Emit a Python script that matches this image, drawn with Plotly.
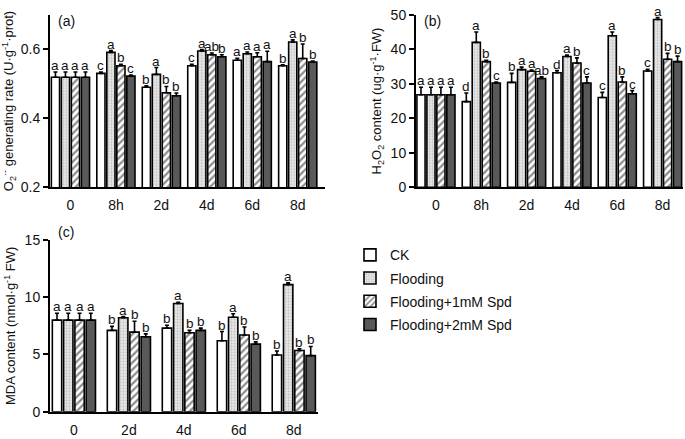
import plotly.graph_objects as go

# ---------------- data ----------------
treatments = ["CK", "Flooding", "Flooding+1mM Spd", "Flooding+2mM Spd"]

cats_ab = ["0", "8h", "2d", "4d", "6d", "8d"]
cats_c = ["0", "2d", "4d", "6d", "8d"]

# (a) O2- generating rate
a_vals = [
    [0.519, 0.530, 0.490, 0.552, 0.568, 0.552],
    [0.519, 0.591, 0.527, 0.595, 0.587, 0.621],
    [0.519, 0.552, 0.474, 0.584, 0.578, 0.573],
    [0.519, 0.522, 0.465, 0.578, 0.564, 0.563],
]
a_err = [
    [0.015, 0.004, 0.004, 0.004, 0.006, 0.003],
    [0.015, 0.005, 0.020, 0.004, 0.005, 0.006],
    [0.015, 0.004, 0.018, 0.005, 0.012, 0.042],
    [0.015, 0.003, 0.008, 0.006, 0.030, 0.003],
]
a_sig = [
    ["a", "c", "b", "c", "a", "b"],
    ["a", "a", "a", "a", "a", "a"],
    ["a", "b", "b", "ab", "a", "b"],
    ["a", "c", "b", "b", "a", "b"],
]

# (b) H2O2 content
b_vals = [
    [26.8, 24.8, 30.4, 33.2, 26.0, 33.7],
    [26.8, 42.0, 34.1, 37.9, 43.9, 48.6],
    [26.8, 36.4, 33.6, 36.0, 30.5, 37.1],
    [26.8, 30.2, 31.5, 30.2, 27.1, 36.4],
]
b_err = [
    [2.2, 2.5, 2.6, 0.6, 1.5, 0.5],
    [2.2, 3.0, 0.7, 0.4, 1.1, 0.6],
    [2.2, 0.4, 0.4, 1.5, 1.5, 1.7],
    [2.2, 0.3, 0.5, 1.8, 0.9, 1.6],
]
b_sig = [
    ["a", "d", "b", "d", "c", "c"],
    ["a", "a", "a", "a", "a", "a"],
    ["a", "b", "a", "b", "b", "b"],
    ["a", "c", "ab", "c", "c", "b"],
]

# (c) MDA content
c_vals = [
    [8.0, 7.10, 7.30, 6.20, 4.95],
    [8.0, 8.20, 9.45, 8.25, 11.10],
    [8.0, 6.95, 6.90, 6.70, 5.35],
    [8.0, 6.55, 7.10, 5.90, 4.90],
]
c_err = [
    [0.6, 0.35, 0.25, 0.80, 0.35],
    [0.6, 0.10, 0.10, 0.30, 0.15],
    [0.6, 0.95, 0.20, 0.70, 0.15],
    [0.6, 0.25, 0.20, 0.20, 0.80],
]
c_sig = [
    ["a", "b", "b", "b", "b"],
    ["a", "a", "a", "a", "a"],
    ["a", "b", "b", "b", "b"],
    ["a", "b", "b", "b", "b"],
]

# ---------------- styling ----------------
FONT = "Arial, Liberation Sans, sans-serif"
styles = [
    dict(color="white"),
    dict(color="#e0e0e0", pattern=dict(shape=".", fgcolor="#9a9a9a", bgcolor="#e6e6e6", size=3, solidity=0.3)),
    dict(color="white", pattern=dict(shape="/", fgcolor="#1a1a1a", bgcolor="white", size=5, solidity=0.45)),
    dict(color="#595959"),
]

fig = go.Figure()
annotations = []


def add_panel(vals, errs, sigs, cats, xa, ya, pitch, width, showlegend):
    n = len(cats)
    for k in range(4):
        off = (k - 1.5) * pitch
        xs = [i + off for i in range(n)]
        st = styles[k]
        marker = dict(color=st["color"], line=dict(color="black", width=1.6))
        if "pattern" in st:
            marker["pattern"] = st["pattern"]
        fig.add_trace(go.Bar(
            x=xs, y=vals[k], width=width, name=treatments[k],
            marker=marker, xaxis=xa, yaxis=ya,
            showlegend=showlegend, legendgroup=treatments[k],
            error_y=dict(type="data", symmetric=False, array=errs[k],
                         arrayminus=[0] * n, color="black", thickness=1.6, width=2),
        ))
        for i in range(n):
            annotations.append(dict(
                x=xs[i], y=vals[k][i] + errs[k][i], text=sigs[k][i],
                xref=xa, yref=ya, showarrow=False, yanchor="bottom",
                yshift=-3, font=dict(family=FONT, size=13.5, color="#111111"),
            ))


add_panel(a_vals, a_err, a_sig, cats_ab, "x", "y", 0.22, 0.18, True)
add_panel(b_vals, b_err, b_sig, cats_ab, "x2", "y2", 0.22, 0.18, False)
add_panel(c_vals, c_err, c_sig, cats_c, "x3", "y3", 0.205, 0.17, False)

W, H = 685, 439
axis_common = dict(showline=True, linecolor="black", linewidth=2, showgrid=False,
                   zeroline=False, tickfont=dict(family=FONT, size=14, color="#111111"))
xcommon = dict(axis_common, ticks="outside", ticklen=4, tickcolor="rgba(0,0,0,0)")
ycommon = dict(axis_common, ticks="outside", ticklen=5, tickwidth=1.6, tickcolor="black")

# panel labels
for txt, xp, yp in [("(a)", 56, 13), ("(b)", 422, 13), ("(c)", 56, 232)]:
    annotations.append(dict(x=xp / W, y=1 - yp / H, xref="paper", yref="paper", text=txt,
                            showarrow=False, xanchor="left", yanchor="middle",
                            font=dict(family=FONT, size=14, color="#111111")))

fig.update_layout(
    width=W, height=H, margin=dict(l=0, r=0, t=0, b=0),
    plot_bgcolor="white", paper_bgcolor="white", barmode="overlay",
    font=dict(family=FONT, color="#111111"),
    xaxis=dict(xcommon, domain=[50 / W, 325 / W], range=[-0.45, 5.6],
               tickvals=list(range(len(cats_ab))), ticktext=cats_ab, anchor="y"),
    yaxis=dict(ycommon, domain=[1 - 186 / H, 1 - 7 / H], range=[0.2, 0.7],
               tickvals=[0.2, 0.4, 0.6], ticktext=["0.2", "0.4", "0.6"], anchor="x",
               title=dict(text="O<sub>2</sub><sup>·-</sup> generating rate (U·g<sup>-1</sup>·prot)",
                          font=dict(family=FONT, size=13), standoff=6)),
    xaxis2=dict(xcommon, domain=[416 / W, 683 / W], range=[-0.44, 5.45],
                tickvals=list(range(len(cats_ab))), ticktext=cats_ab, anchor="y2"),
    yaxis2=dict(ycommon, domain=[1 - 186 / H, 1 - 7 / H], range=[0, 50],
                tickvals=[0, 10, 20, 30, 40, 50], anchor="x2",
                title=dict(text="H<sub>2</sub>O<sub>2</sub> content (ug·g<sup>-1</sup>·FW)",
                           font=dict(family=FONT, size=13), standoff=6)),
    xaxis3=dict(xcommon, domain=[50 / W, 318 / W], range=[-0.435, 4.44],
                tickvals=list(range(len(cats_c))), ticktext=cats_c, anchor="y3"),
    yaxis3=dict(ycommon, domain=[1 - 419 / H, 1 - 240.7 / H], range=[0, 15],
                tickvals=[0, 5, 10, 15], anchor="x3",
                title=dict(text="MDA content (nmol·g<sup>-1</sup> FW)",
                           font=dict(family=FONT, size=13), standoff=6)),
    legend=dict(x=350 / W, y=1 - 240 / H, xanchor="left", yanchor="top",
                font=dict(family=FONT, size=14, color="#111111"),
                bgcolor="rgba(0,0,0,0)", tracegroupgap=2, traceorder="grouped"),
    annotations=annotations,
)

fig.write_html("out.html", config={"displayModeBar": False},
               post_script="document.body.style.margin='0';document.body.style.overflow='hidden';")
